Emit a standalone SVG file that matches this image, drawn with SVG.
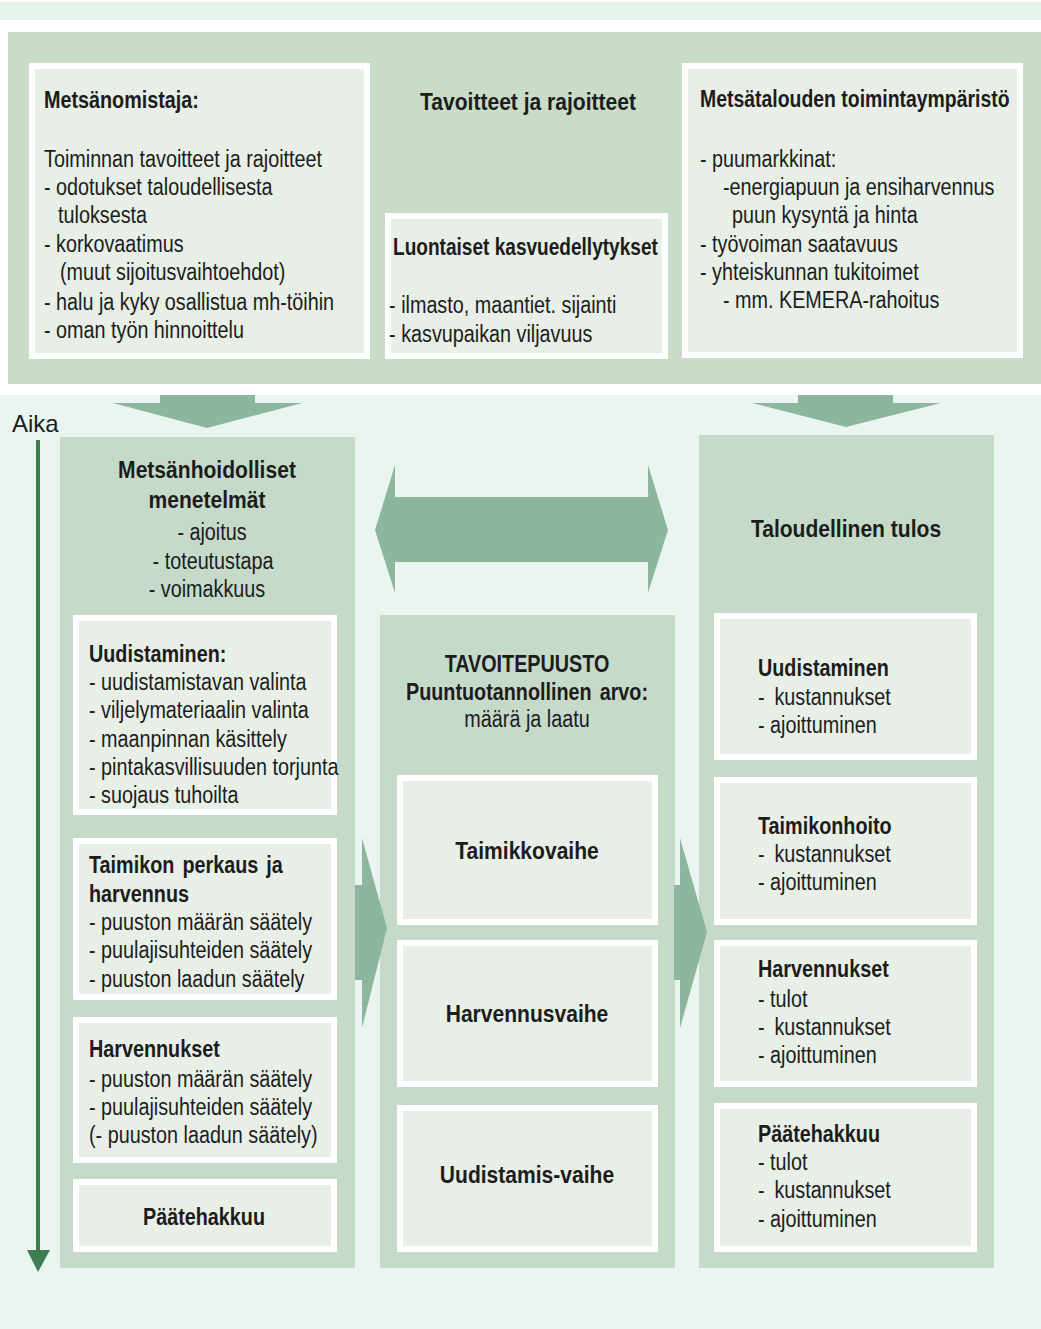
<svg xmlns="http://www.w3.org/2000/svg" width="1041" height="1329" viewBox="0 0 1041 1329">
<style>
.t{font-family:"Liberation Sans",Arial,sans-serif;font-size:23px;fill:#1c1c1c}
.b{font-weight:bold}
.h{font-size:24.5px}
.c{text-anchor:middle}
.panel{fill:#c6dac9}
.top{fill:#c9dcc7}
.box{fill:#e7efe6;stroke:#ffffff;stroke-width:6}
.arr{fill:#8cb69e}
</style>
<rect x="0" y="0" width="1041" height="1329" fill="#ffffff"/>
<rect x="0" y="2" width="1041" height="18" fill="#e7f3eb"/>
<rect x="8" y="32" width="1033" height="352" class="top"/>
<rect x="0" y="395" width="1041" height="934" fill="#ebf5f0"/>

<g id="metsanomistaja">
<rect x="32" y="66" width="335" height="290" class="box"/>
<g transform="translate(44,0) scale(0.86,1)">
<text class="t b" x="0" y="108">Metsänomistaja:</text>
<text class="t" x="0" y="167">Toiminnan tavoitteet ja rajoitteet</text>
<text class="t" x="0" y="195">- odotukset taloudellisesta</text>
<text class="t" x="16.3" y="223">tuloksesta</text>
<text class="t" x="0" y="252">- korkovaatimus</text>
<text class="t" x="18.6" y="280">(muut sijoitusvaihtoehdot)</text>
<text class="t" x="0" y="310">- halu ja kyky osallistua mh-töihin</text>
<text class="t" x="0" y="338">- oman työn hinnoittelu</text>
</g>
</g>

<g id="tavoitteet">
<g transform="translate(528,0) scale(0.86,1)">
<text class="t b h c" x="0" y="110">Tavoitteet ja rajoitteet</text>
</g>
</g>

<g id="luontaiset">
<rect x="388" y="216" width="277" height="140" class="box"/>
<g transform="translate(393,0) scale(0.86,1)">
<text class="t b" x="0" y="255" textLength="308" lengthAdjust="spacingAndGlyphs">Luontaiset kasvuedellytykset</text>
<text class="t" x="-4.6" y="313">- ilmasto, maantiet. sijainti</text>
<text class="t" x="-4.6" y="342">- kasvupaikan viljavuus</text>
</g>
</g>

<g id="toimintaymparisto">
<rect x="685" y="66" width="335" height="289" class="box"/>
<g transform="translate(700,0) scale(0.86,1)">
<text class="t b" x="0" y="107" textLength="360" lengthAdjust="spacingAndGlyphs">Metsätalouden toimintaympäristö</text>
<text class="t" x="0" y="167">- puumarkkinat:</text>
<text class="t" x="26.7" y="195">-energiapuun ja ensiharvennus</text>
<text class="t" x="37.2" y="223">puun kysyntä ja hinta</text>
<text class="t" x="0" y="252">- työvoiman saatavuus</text>
<text class="t" x="0" y="280">- yhteiskunnan tukitoimet</text>
<text class="t" x="26.7" y="308">- mm. KEMERA-rahoitus</text>
</g>
</g>

<g id="aika">
<text x="12" y="432" style="font-family:'Liberation Sans',Arial,sans-serif;font-size:24px;fill:#1c1c1c">Aika</text>
<line x1="38" y1="440" x2="38" y2="1255" stroke="#3e7c52" stroke-width="4"/>
<polygon points="27,1250 50,1250 38,1272" fill="#3e7c52"/>
</g>

<g id="menetelmat">
<rect x="60" y="437" width="295" height="831" class="panel"/>
<g transform="translate(207,0) scale(0.86,1)">
<text class="t b h c" x="0" y="478">Metsänhoidolliset</text>
<text class="t b h c" x="0" y="508">menetelmät</text>
<text class="t c" x="5.8" y="540">- ajoitus</text>
<text class="t c" x="7" y="569">- toteutustapa</text>
<text class="t c" x="0" y="597">- voimakkuus</text>
</g>
</g>
<g id="m-uudistaminen">
<rect x="76" y="618" width="258" height="194" class="box"/>
<g transform="translate(89,0) scale(0.86,1)">
<text class="t b" x="0" y="662">Uudistaminen:</text>
<text class="t" x="0" y="690">- uudistamistavan valinta</text>
<text class="t" x="0" y="718">- viljelymateriaalin valinta</text>
<text class="t" x="0" y="747">- maanpinnan käsittely</text>
<text class="t" x="0" y="775">- pintakasvillisuuden torjunta</text>
<text class="t" x="0" y="803">- suojaus tuhoilta</text>
</g>
</g>
<g id="m-taimikon">
<rect x="76" y="841" width="258" height="156" class="box"/>
<g transform="translate(89,0) scale(0.86,1)">
<text class="t b" x="0" y="873" style="word-spacing:3px">Taimikon perkaus ja</text>
<text class="t b" x="0" y="902">harvennus</text>
<text class="t" x="0" y="930">- puuston määrän säätely</text>
<text class="t" x="0" y="958">- puulajisuhteiden säätely</text>
<text class="t" x="0" y="987">- puuston laadun säätely</text>
</g>
</g>
<g id="m-harvennukset">
<rect x="76" y="1020" width="258" height="140" class="box"/>
<g transform="translate(89,0) scale(0.86,1)">
<text class="t b" x="0" y="1057">Harvennukset</text>
<text class="t" x="0" y="1087">- puuston määrän säätely</text>
<text class="t" x="0" y="1115">- puulajisuhteiden säätely</text>
<text class="t" x="0" y="1143">(- puuston laadun säätely)</text>
</g>
</g>
<g id="m-paatehakkuu">
<rect x="76" y="1182" width="258" height="67" class="box"/>
<g transform="translate(204,0) scale(0.86,1)">
<text class="t b c" x="0" y="1225">Päätehakkuu</text>
</g>
</g>

<g id="tavoitepuusto">
<rect x="380" y="615" width="295" height="653" class="panel"/>
<g transform="translate(527,0) scale(0.86,1)">
<text class="t b c" x="0" y="672">TAVOITEPUUSTO</text>
<text class="t b c" x="0" y="700" style="word-spacing:3px">Puuntuotannollinen arvo:</text>
<text class="t c" x="0" y="727">määrä ja laatu</text>
</g>
</g>
<g id="taimikkovaihe">
<rect x="400" y="778" width="255" height="144" class="box"/>
<g transform="translate(527,0) scale(0.86,1)">
<text class="t b h c" x="0" y="859">Taimikkovaihe</text>
</g>
</g>
<g id="harvennusvaihe">
<rect x="400" y="943" width="255" height="141" class="box"/>
<g transform="translate(527,0) scale(0.86,1)">
<text class="t b h c" x="0" y="1022">Harvennusvaihe</text>
</g>
</g>
<g id="uudistamisvaihe">
<rect x="400" y="1108" width="255" height="141" class="box"/>
<g transform="translate(527,0) scale(0.86,1)">
<text class="t b h c" x="0" y="1183">Uudistamis-vaihe</text>
</g>
</g>

<g id="taloudellinen">
<rect x="699" y="435" width="295" height="833" class="panel"/>
<g transform="translate(846,0) scale(0.86,1)">
<text class="t b h c" x="0" y="537">Taloudellinen tulos</text>
</g>
</g>
<g id="t-uudistaminen">
<rect x="717" y="616" width="257" height="141" class="box"/>
<g transform="translate(758,0) scale(0.86,1)">
<text class="t b" x="0" y="676">Uudistaminen</text>
<text class="t" x="0" y="705" style="word-spacing:5px">- kustannukset</text>
<text class="t" x="0" y="733">- ajoittuminen</text>
</g>
</g>
<g id="t-taimikonhoito">
<rect x="717" y="780" width="257" height="142" class="box"/>
<g transform="translate(758,0) scale(0.86,1)">
<text class="t b" x="0" y="834">Taimikonhoito</text>
<text class="t" x="0" y="862" style="word-spacing:5px">- kustannukset</text>
<text class="t" x="0" y="890">- ajoittuminen</text>
</g>
</g>
<g id="t-harvennukset">
<rect x="717" y="943" width="257" height="141" class="box"/>
<g transform="translate(758,0) scale(0.86,1)">
<text class="t b" x="0" y="977">Harvennukset</text>
<text class="t" x="0" y="1007">- tulot</text>
<text class="t" x="0" y="1035" style="word-spacing:5px">- kustannukset</text>
<text class="t" x="0" y="1063">- ajoittuminen</text>
</g>
</g>
<g id="t-paatehakkuu">
<rect x="717" y="1106" width="257" height="143" class="box"/>
<g transform="translate(758,0) scale(0.86,1)">
<text class="t b" x="0" y="1142">Päätehakkuu</text>
<text class="t" x="0" y="1170">- tulot</text>
<text class="t" x="0" y="1198" style="word-spacing:5px">- kustannukset</text>
<text class="t" x="0" y="1227">- ajoittuminen</text>
</g>
</g>

<g id="connectors">
<polygon class="arr" points="160,395 255,395 255,403 302,403 207,428 113,403 160,403"/>
<polygon class="arr" points="798,395 893,395 893,403 941,403 846,427 752,403 798,403"/>
<polygon class="arr" points="375,530 395,465 395,497 648,497 648,465 668,530 648,593 648,562 395,562 395,593"/>
<polygon class="arr" points="355,885 362,885 362,838 387,928 362,1028 362,980 355,980"/>
<polygon class="arr" points="674,885 680,885 680,838 707,932 680,1028 680,980 674,980"/>
</g>
</svg>
